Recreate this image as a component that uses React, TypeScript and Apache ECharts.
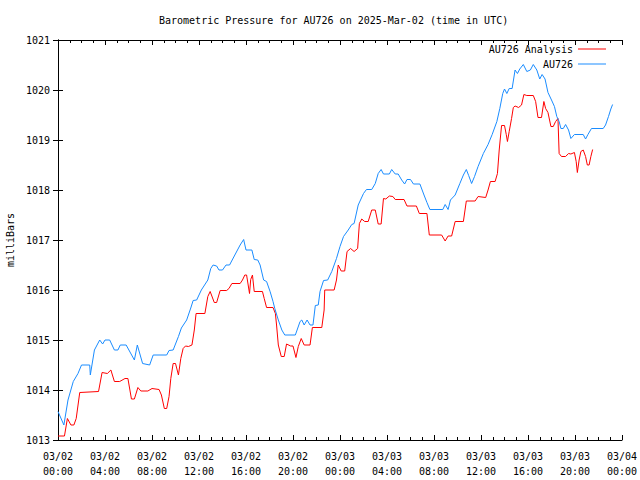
import React, { useEffect, useRef } from "react";
import * as echarts from "echarts";

const titleText = "Barometric Pressure for AU726 on 2025-Mar-02 (time in UTC)";
const yAxisName = "milliBars";
const seriesNames = ["AU726 Analysis", "AU726"];
const seriesColors = ["#ff0000", "#1a8cff"];

const xTickLabels = [
  "03/02\n00:00", "03/02\n04:00", "03/02\n08:00", "03/02\n12:00", "03/02\n16:00",
  "03/02\n20:00", "03/03\n00:00", "03/03\n04:00", "03/03\n08:00", "03/03\n12:00",
  "03/03\n16:00", "03/03\n20:00", "03/04\n00:00",
];

// [hours since 03/02 00:00 UTC, pressure mb]
const analysisData: [number, number][] = [
  [0.0, 1013.08], [0.55, 1013.08], [0.8, 1013.43], [1.1, 1013.3], [1.35, 1013.3],
  [1.55, 1013.43], [1.85, 1013.95], [3.45, 1013.97], [3.75, 1014.35], [4.2, 1014.33],
  [4.5, 1014.4], [4.8, 1014.17], [5.25, 1014.17], [5.7, 1014.23], [5.95, 1014.23],
  [6.25, 1013.82], [6.5, 1013.82], [6.8, 1014.05], [7.05, 1013.98], [7.65, 1013.98],
  [8.0, 1014.03], [8.6, 1014.01], [8.8, 1013.9], [9.05, 1013.63], [9.25, 1013.63],
  [9.45, 1013.87], [9.6, 1014.23], [9.8, 1014.53], [10.0, 1014.53], [10.25, 1014.3],
  [10.45, 1014.63], [10.65, 1014.83], [10.85, 1014.88], [11.1, 1014.87], [11.4, 1014.9],
  [11.6, 1015.2], [11.75, 1015.53], [12.5, 1015.53], [12.75, 1015.87], [12.95, 1015.97],
  [13.3, 1015.75], [13.5, 1015.75], [13.8, 1015.99], [14.35, 1015.99], [14.55, 1016.03],
  [14.8, 1016.13], [15.5, 1016.13], [15.7, 1016.2], [15.9, 1016.3], [16.05, 1016.3],
  [16.3, 1015.93], [16.4, 1016.21], [16.55, 1016.3], [16.7, 1015.97], [17.4, 1015.97],
  [17.55, 1015.83], [17.75, 1015.65], [18.3, 1015.65], [18.5, 1015.53], [18.6, 1015.3],
  [18.75, 1014.9], [19.0, 1014.67], [19.25, 1014.67], [19.45, 1014.92], [19.8, 1014.88],
  [20.0, 1014.88], [20.25, 1014.65], [20.45, 1014.87], [20.7, 1015.03], [20.95, 1014.9],
  [21.45, 1014.9], [21.65, 1015.25], [22.45, 1015.25], [22.65, 1015.6], [22.7, 1016.0],
  [23.5, 1016.0], [23.7, 1016.2], [23.85, 1016.5], [24.1, 1016.38], [24.4, 1016.38],
  [24.6, 1016.77], [24.9, 1016.83], [25.2, 1016.77], [25.5, 1016.83], [25.65, 1017.33],
  [25.85, 1017.42], [26.1, 1017.37], [26.4, 1017.37], [26.7, 1017.6], [27.0, 1017.6],
  [27.25, 1017.32], [27.5, 1017.32], [27.7, 1017.83], [27.9, 1017.82], [28.2, 1017.88],
  [28.5, 1017.87], [28.7, 1017.81], [29.45, 1017.81], [29.7, 1017.68], [30.5, 1017.68],
  [30.75, 1017.53], [31.4, 1017.53], [31.6, 1017.1], [32.65, 1017.1], [32.95, 1016.98],
  [33.2, 1017.08], [33.5, 1017.08], [33.8, 1017.37], [34.5, 1017.37], [34.75, 1017.78],
  [35.5, 1017.78], [35.75, 1017.87], [36.4, 1017.85], [36.6, 1018.0], [36.8, 1018.17],
  [37.2, 1018.17], [37.4, 1018.33], [37.55, 1018.8], [37.75, 1019.29], [38.0, 1019.29],
  [38.15, 1019.11], [38.25, 1018.97], [38.4, 1019.17], [38.6, 1019.43], [38.75, 1019.65],
  [38.9, 1019.68], [39.2, 1019.65], [39.45, 1019.7], [39.65, 1019.91], [39.9, 1019.89],
  [40.45, 1019.89], [40.65, 1019.77], [40.85, 1019.45], [41.15, 1019.45], [41.35, 1019.77],
  [41.5, 1019.63], [41.7, 1019.55], [41.95, 1019.27], [42.15, 1019.27], [42.35, 1019.37],
  [42.55, 1019.43], [42.65, 1018.73], [42.85, 1018.67], [43.2, 1018.67], [43.45, 1018.73],
  [43.65, 1018.72], [43.95, 1018.75], [44.1, 1018.57], [44.2, 1018.35], [44.35, 1018.6],
  [44.5, 1018.77], [44.7, 1018.8], [44.9, 1018.67], [45.05, 1018.5], [45.2, 1018.5],
  [45.35, 1018.67], [45.5, 1018.81],
];

const au726Data: [number, number][] = [
  [0.0, 1013.57], [0.5, 1013.3], [0.85, 1013.8], [1.3, 1014.17], [1.7, 1014.33],
  [2.0, 1014.5], [2.7, 1014.5], [2.75, 1014.3], [3.1, 1014.8], [3.55, 1015.0],
  [3.8, 1014.92], [4.0, 1015.0], [4.4, 1015.0], [4.8, 1014.8], [5.1, 1014.8],
  [5.3, 1014.9], [5.8, 1014.9], [6.5, 1014.6], [6.75, 1014.9], [7.2, 1014.53],
  [7.8, 1014.5], [8.1, 1014.7], [9.25, 1014.7], [9.45, 1014.79], [9.8, 1014.8],
  [10.25, 1015.07], [10.5, 1015.24], [10.95, 1015.4], [11.3, 1015.64], [11.5, 1015.79],
  [11.8, 1015.8], [12.2, 1016.0], [12.75, 1016.2], [13.0, 1016.43], [13.2, 1016.5],
  [13.5, 1016.48], [13.7, 1016.4], [14.0, 1016.4], [14.3, 1016.5], [14.6, 1016.5],
  [15.05, 1016.7], [15.5, 1016.9], [15.8, 1017.01], [16.0, 1016.8], [16.5, 1016.8],
  [16.7, 1016.61], [17.0, 1016.6], [17.2, 1016.5], [17.5, 1016.2], [17.75, 1016.17],
  [18.05, 1015.97], [18.3, 1015.77], [18.45, 1015.63], [18.75, 1015.4], [19.05, 1015.2],
  [19.3, 1015.1], [20.2, 1015.1], [20.6, 1015.37], [20.75, 1015.4], [20.95, 1015.3],
  [21.2, 1015.4], [21.45, 1015.3], [21.7, 1015.3], [21.9, 1015.69], [22.15, 1015.7],
  [22.3, 1015.97], [22.6, 1016.19], [22.95, 1016.2], [23.3, 1016.37], [23.7, 1016.63],
  [24.0, 1016.87], [24.3, 1017.07], [24.7, 1017.2], [25.0, 1017.31], [25.2, 1017.33],
  [25.55, 1017.7], [26.0, 1017.93], [26.25, 1018.01], [26.7, 1018.01], [27.0, 1018.13],
  [27.25, 1018.33], [27.5, 1018.41], [27.7, 1018.32], [28.2, 1018.32], [28.4, 1018.41],
  [28.7, 1018.32], [28.95, 1018.32], [29.25, 1018.2], [29.5, 1018.12], [29.7, 1018.21],
  [30.0, 1018.21], [30.25, 1018.12], [30.8, 1018.12], [31.15, 1017.9], [31.4, 1017.75],
  [31.65, 1017.61], [32.75, 1017.61], [32.95, 1017.71], [33.2, 1017.61], [33.4, 1017.8],
  [33.8, 1017.9], [34.2, 1018.13], [34.5, 1018.3], [34.75, 1018.41], [34.95, 1018.29],
  [35.2, 1018.13], [35.45, 1018.27], [35.75, 1018.47], [36.2, 1018.73], [36.6, 1018.91],
  [36.95, 1019.11], [37.35, 1019.37], [37.6, 1019.63], [37.85, 1019.93], [38.0, 1020.02],
  [38.2, 1019.93], [38.4, 1020.03], [38.65, 1020.03], [38.9, 1020.4], [39.1, 1020.33],
  [39.3, 1020.42], [39.6, 1020.51], [39.9, 1020.37], [40.2, 1020.4], [40.45, 1020.51],
  [40.75, 1020.4], [41.0, 1020.22], [41.2, 1020.31], [41.45, 1020.22], [41.7, 1019.95],
  [42.0, 1019.8], [42.25, 1019.67], [42.45, 1019.47], [42.65, 1019.37], [42.8, 1019.23],
  [43.0, 1019.23], [43.2, 1019.31], [43.45, 1019.2], [43.65, 1019.03], [43.95, 1019.11],
  [44.7, 1019.11], [44.9, 1019.02], [45.1, 1019.11], [45.4, 1019.23], [46.4, 1019.23],
  [46.6, 1019.3], [46.85, 1019.47], [47.05, 1019.62], [47.2, 1019.71],
];

const FONT = "DejaVu Sans Mono";

export default function App() {
  const ref = useRef<HTMLDivElement>(null);
  useEffect(() => {
    if (!ref.current) return;
    const chart = echarts.init(ref.current, null, { renderer: "svg" });
    const axisLine = { show: true, lineStyle: { color: "#000", width: 1 } };
    const xBase = {
      type: "value",
      min: 0,
      max: 48,
      interval: 4,
      axisLine,
      axisTick: { show: true, inside: true, length: 5, lineStyle: { color: "#000" } },
      minorTick: { show: true, splitNumber: 4, length: 3, lineStyle: { color: "#000" } },
      splitLine: { show: false },
    };
    const yBase = {
      type: "value",
      min: 1013,
      max: 1021,
      interval: 1,
      axisLine,
      axisTick: { show: true, inside: true, length: 5, lineStyle: { color: "#000" } },
      splitLine: { show: false },
    };
    const legendText = { fontFamily: FONT, fontSize: 10, color: "#000" };
    chart.setOption({
      animation: false,
      backgroundColor: "#fff",
      title: {
        text: titleText,
        left: 154,
        top: 10,
        textStyle: { fontFamily: FONT, fontSize: 10, fontWeight: "normal", color: "#000" },
      },
      legend: [
        {
          data: [seriesNames[0]],
          right: 29,
          top: 39,
          align: "right",
          icon: "rect",
          itemWidth: 28,
          itemHeight: 1,
          textStyle: legendText,
        },
        {
          data: [seriesNames[1]],
          right: 29,
          top: 54,
          align: "right",
          icon: "rect",
          itemWidth: 28,
          itemHeight: 1,
          textStyle: legendText,
        },
      ],
      grid: { left: 58, right: 18, top: 40, bottom: 40, containLabel: false, outerBoundsMode: "none" },
      xAxis: [
        {
          ...xBase,
          position: "bottom",
          axisLabel: {
            formatter: (v: number) => xTickLabels[Math.round(v / 4)] ?? "",
            fontFamily: FONT,
            fontSize: 10,
            color: "#000",
            margin: 9,
            lineHeight: 15,
          },
        },
        { ...xBase, position: "top", axisLabel: { show: false } },
      ],
      yAxis: [
        {
          ...yBase,
          position: "left",
          name: yAxisName,
          nameLocation: "middle",
          nameGap: 43,
          nameTextStyle: { fontFamily: FONT, fontSize: 10, color: "#000" },
          axisLabel: {
            formatter: (v: number) => String(v),
            fontFamily: FONT,
            fontSize: 10,
            color: "#000",
            margin: 8,
          },
        },
        { ...yBase, position: "right", axisLabel: { show: false } },
      ],
      series: [
        {
          name: seriesNames[0],
          type: "line",
          data: analysisData,
          showSymbol: false,
          color: seriesColors[0],
          lineStyle: { width: 1, color: seriesColors[0] },
          xAxisIndex: 0,
          yAxisIndex: 0,
        },
        {
          name: seriesNames[1],
          type: "line",
          data: au726Data,
          showSymbol: false,
          color: seriesColors[1],
          lineStyle: { width: 1, color: seriesColors[1] },
          xAxisIndex: 0,
          yAxisIndex: 0,
        },
      ],
    });
    return () => chart.dispose();
  }, []);
  return (
    <div
      ref={ref}
      style={{ position: "fixed", left: 0, top: 0, width: 640, height: 480 }}
    />
  );
}
